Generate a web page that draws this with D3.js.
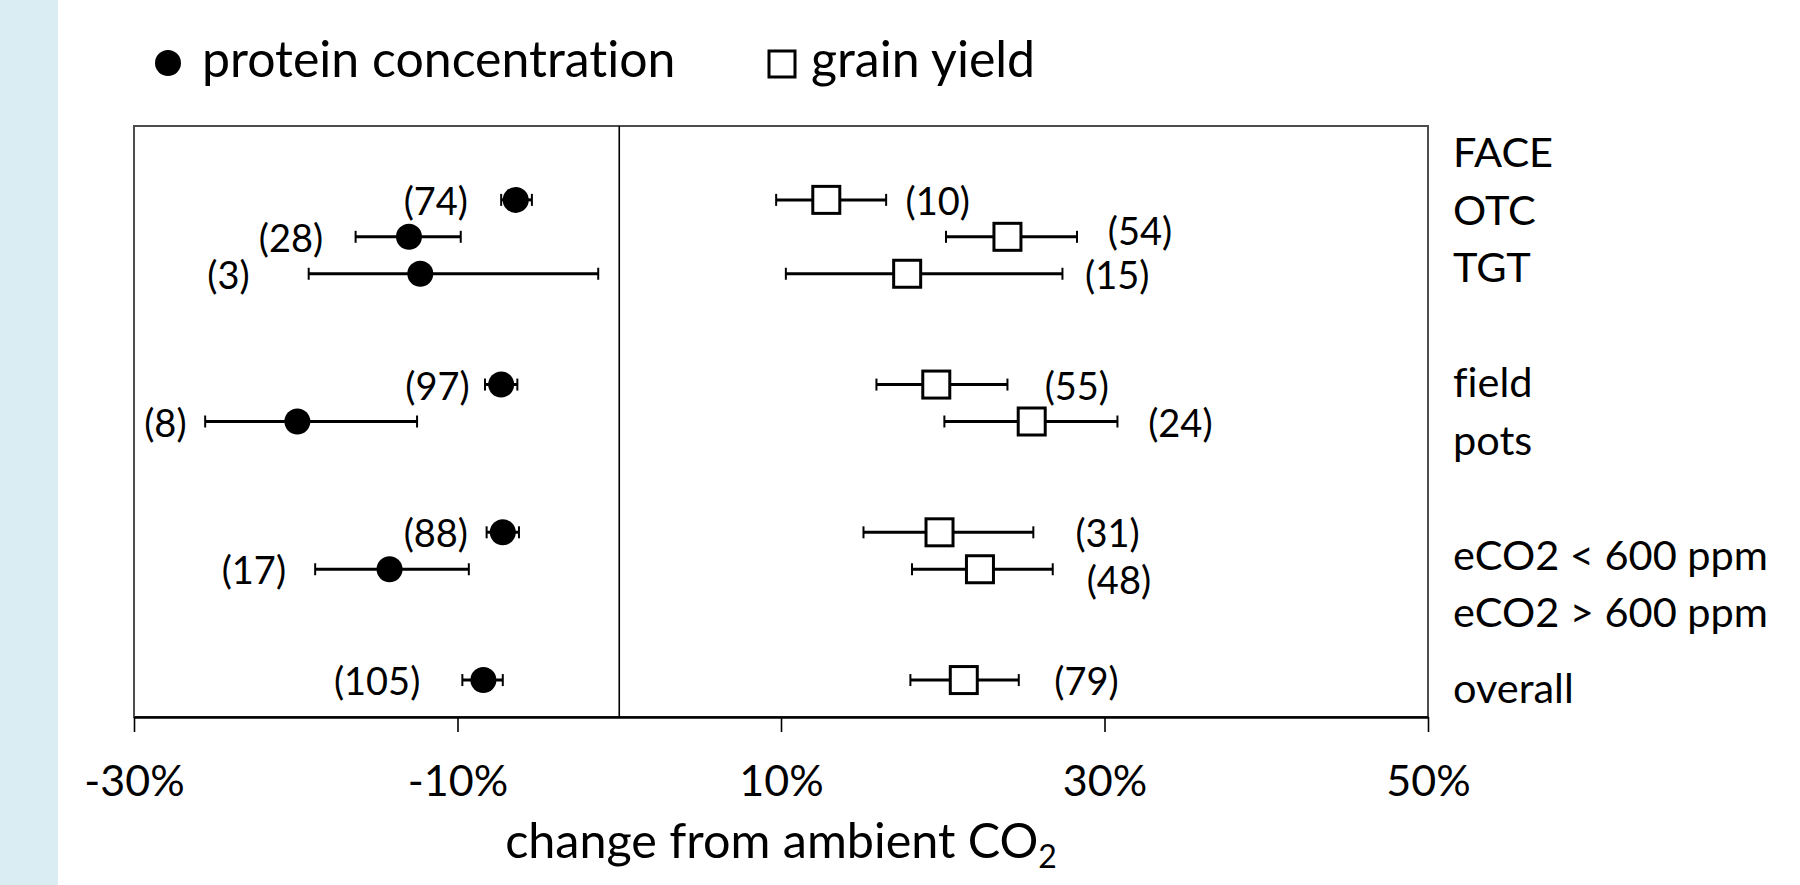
<!DOCTYPE html>
<html>
<head>
<meta charset="utf-8">
<script src="https://cdn.jsdelivr.net/npm/d3@7"></script>
<style>
  html, body { margin: 0; padding: 0; background: #fff; }
  svg { display: block; font-family: Lato, "Open Sans", sans-serif; font-variant-ligatures: none; font-feature-settings: "liga" 0; }
</style>
</head>
<body>
<div id="chart"></div>
<script>
// rows of the meta-analysis, top to bottom (y = slot on a hidden 0..16 axis)
const rowSlot = [2, 3, 4, 7, 8, 11, 12, 15];

// protein concentration: mean, lower CI, upper CI (% change)
const proteinMean = [-6.4, -13.0, -12.3, -7.3, -19.9, -7.2, -14.2, -8.4];
const proteinLo   = [-7.3, -16.3, -19.2, -8.3, -25.6, -8.2, -18.8, -9.7];
const proteinHi   = [-5.4, -9.8, -1.3, -6.3, -12.5, -6.2, -9.3, -7.2];
const proteinN    = [74, 28, 3, 97, 8, 88, 17, 105];
const proteinNAt  = [-9.35, -18.3, -22.85, -9.25, -26.75, -9.35, -20.6, -12.3];

// grain yield
const grainMean = [12.8, 24.0, 17.8, 19.6, 25.5, 19.8, 22.3, 21.3];
const grainLo   = [9.7, 20.2, 10.3, 15.9, 20.1, 15.1, 18.1, 18.0];
const grainHi   = [16.5, 28.3, 27.4, 24.0, 30.8, 25.6, 26.8, 24.7];
const grainN    = [10, 54, 15, 55, 24, 31, 48, 79];
const grainNAt  = [17.7, 30.2, 28.8, 26.3, 32.7, 28.2, 28.9, 26.9];
const grainNRow = [2, 2.81, 4, 7, 8, 11, 12.27, 15];

// category labels on the right (line index in the text box)
const groupLabels = ["FACE", "OTC", "TGT", "field", "pots", "eCO2 < 600 ppm", "eCO2 > 600 ppm", "overall"];
const groupLine   = [0, 1, 2, 4, 5, 7, 8, 9.33];

const xTicks = [-30, -10, 10, 30, 50];

const W = 1800, H = 885;
const plot = { left: 134, right: 1428, top: 126, bottom: 717 };

const svg = d3.select("#chart").append("svg")
  .attr("width", W)
  .attr("height", H);

// light blue band on the left edge
svg.append("rect")
  .attr("x", 0).attr("y", 0)
  .attr("width", 58).attr("height", H)
  .attr("fill", "#daedf3");

const x = d3.scaleLinear().domain([-30, 50]).range([plot.left, plot.right]);
const y = d3.scaleLinear().domain([0, 16]).range([plot.top, plot.bottom]);

// plot frame
svg.append("rect")
  .attr("x", plot.left).attr("y", plot.top)
  .attr("width", plot.right - plot.left)
  .attr("height", plot.bottom - plot.top)
  .attr("fill", "none")
  .attr("stroke", "#4d4d4d")
  .attr("stroke-width", 2);

// zero line
svg.append("line")
  .attr("x1", x(0)).attr("x2", x(0))
  .attr("y1", plot.top).attr("y2", plot.bottom)
  .attr("stroke", "#000")
  .attr("stroke-width", 1.6);

// x axis
const xAxis = d3.axisBottom(x)
  .tickValues(xTicks)
  .tickFormat(d => d + "%")
  .tickSize(15)
  .tickSizeOuter(0)
  .tickPadding(33);

const gx = svg.append("g")
  .attr("transform", `translate(0,${plot.bottom})`)
  .call(xAxis);
gx.select(".domain").attr("stroke", "#000").attr("stroke-width", 2.6);
gx.selectAll(".tick line").attr("stroke", "#000").attr("stroke-width", 1.6);
gx.selectAll(".tick text")
  .attr("font-family", "Lato, 'Open Sans', sans-serif")
  .attr("font-size", 43)
  .attr("fill", "#000");

// axis title with subscript
const title = svg.append("text")
  .attr("x", (plot.left + plot.right) / 2)
  .attr("y", 858)
  .attr("text-anchor", "middle")
  .attr("font-size", 48.5)
  .attr("fill", "#000");
title.append("tspan").text("change from ambient CO");
title.append("tspan").attr("font-size", 32).attr("dy", 10).text("2");

// error bars helper
function errorBars(lo, hi) {
  const g = svg.append("g");
  g.selectAll("line.bar")
    .data(rowSlot)
    .join("line")
    .attr("class", "bar")
    .attr("x1", (d, i) => x(lo[i]))
    .attr("x2", (d, i) => x(hi[i]))
    .attr("y1", d => y(d))
    .attr("y2", d => y(d))
    .attr("stroke", "#000")
    .attr("stroke-width", 3);
  [lo, hi].forEach(arr => {
    g.selectAll(null)
      .data(rowSlot)
      .join("line")
      .attr("x1", (d, i) => x(arr[i]))
      .attr("x2", (d, i) => x(arr[i]))
      .attr("y1", d => y(d) - 6)
      .attr("y2", d => y(d) + 6)
      .attr("stroke", "#000")
      .attr("stroke-width", 2);
  });
}

errorBars(proteinLo, proteinHi);
errorBars(grainLo, grainHi);

// protein points
svg.append("g").selectAll("circle")
  .data(rowSlot)
  .join("circle")
  .attr("cx", (d, i) => x(proteinMean[i]))
  .attr("cy", d => y(d))
  .attr("r", 13)
  .attr("fill", "#000");

// grain points
const sq = 27;
svg.append("g").selectAll("rect")
  .data(rowSlot)
  .join("rect")
  .attr("x", (d, i) => x(grainMean[i]) - sq / 2)
  .attr("y", d => y(d) - sq / 2)
  .attr("width", sq)
  .attr("height", sq)
  .attr("fill", "#fff")
  .attr("stroke", "#000")
  .attr("stroke-width", 3);

// sample-size labels
svg.append("g").selectAll("text")
  .data(rowSlot)
  .join("text")
  .attr("x", (d, i) => x(proteinNAt[i]))
  .attr("y", d => y(d))
  .attr("text-anchor", "end")
  .attr("dominant-baseline", "central")
  .attr("font-size", 38)
  .attr("fill", "#000")
  .text((d, i) => `(${proteinN[i]})`);

svg.append("g").selectAll("text")
  .data(grainNRow)
  .join("text")
  .attr("x", (d, i) => x(grainNAt[i]))
  .attr("y", d => y(d))
  .attr("text-anchor", "start")
  .attr("dominant-baseline", "central")
  .attr("font-size", 38)
  .attr("fill", "#000")
  .text((d, i) => `(${grainN[i]})`);

// group labels to the right of the frame
const lineH = 57.5;
svg.append("g").selectAll("text")
  .data(groupLabels)
  .join("text")
  .attr("x", plot.right + 25)
  .attr("y", (d, i) => 167 + groupLine[i] * lineH)
  .attr("font-size", 41.5)
  .attr("fill", "#000")
  .text(d => d);

// legend
const legend = svg.append("g");
legend.append("circle")
  .attr("cx", 168).attr("cy", 63).attr("r", 13)
  .attr("fill", "#000");
legend.append("text")
  .attr("x", 202).attr("y", 77)
  .attr("font-size", 50)
  .attr("fill", "#000")
  .text("protein concentration");
legend.append("rect")
  .attr("x", 769).attr("y", 51).attr("width", 26).attr("height", 26)
  .attr("fill", "#fff")
  .attr("stroke", "#000")
  .attr("stroke-width", 3);
legend.append("text")
  .attr("x", 811).attr("y", 77)
  .attr("font-size", 50)
  .attr("fill", "#000")
  .text("grain yield");
</script>
</body>
</html>
